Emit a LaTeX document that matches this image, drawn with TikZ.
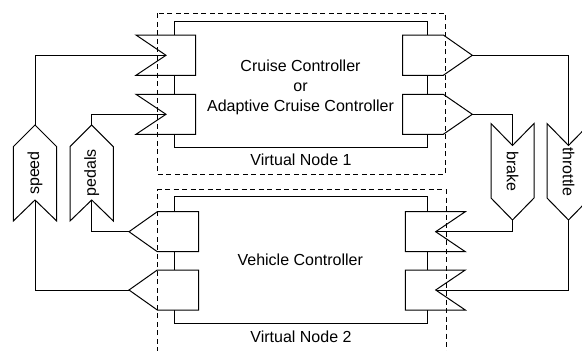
\documentclass[tikz,border=0pt]{standalone}
\usepackage{fontspec}
\setmainfont{Liberation Sans}
\begin{document}
\begin{tikzpicture}[x=1pt,y=-1pt]
\tikzset{
  box/.style={draw, line width=1pt},
  port/.style={draw, fill=white, line width=1pt, line join=miter},
  flagshape/.style={draw, fill=white, line width=1pt, line join=miter},
  wire/.style={draw, line width=1pt},
  vnode/.style={draw, line width=1pt, dash pattern=on 5pt off 3.5pt},
  lbl/.style={font=\fontsize{16}{20}\selectfont, align=center, inner sep=0pt},
}
\clip (0,0) rectangle (582,351);

% inner component boxes
\draw[box] (174,21.7) rectangle (427,147.7);
\draw[box] (174,196.7) rectangle (427,323.3);

% Cruise controller input ports (notched)
\draw[port] (136,35) -- (195.7,35) -- (195.7,75.3) -- (136,75.3) -- (166,55.3) -- cycle;
\coordinate (ccin1) at (166,55.3);
\draw[port] (136,94.3) -- (195.7,94.3) -- (195.7,134.3) -- (136,134.3) -- (166,114.3) -- cycle;
\coordinate (ccin2) at (166,114.3);
% Cruise controller output ports (pointed)
\draw[port] (402.7,35) -- (443.3,35) -- (472.3,55.3) -- (443.3,75.3) -- (402.7,75.3) -- cycle;
\coordinate (ccout1) at (472.3,55.3);
\draw[port] (402.7,94.3) -- (443.3,94.3) -- (472.3,114.3) -- (443.3,134.3) -- (402.7,134.3) -- cycle;
\coordinate (ccout2) at (472.3,114.3);

% Vehicle controller output ports (pointed, left)
\draw[port] (198.7,211.7) -- (157.3,211.7) -- (129,231.7) -- (157.3,251.7) -- (198.7,251.7) -- cycle;
\coordinate (vcout1) at (129,231.7);
\draw[port] (198.7,270) -- (157.3,270) -- (129,290) -- (157.3,310) -- (198.7,310) -- cycle;
\coordinate (vcout2) at (129,290);
% Vehicle controller input ports (notched)
\draw[port] (465.3,211.7) -- (405.3,211.7) -- (405.3,251.7) -- (465.3,251.7) -- (435.7,231.7) -- cycle;
\coordinate (vcin1) at (435.7,231.7);
\draw[port] (465.3,270) -- (405.3,270) -- (405.3,310) -- (465.3,310) -- (435.7,290) -- cycle;
\coordinate (vcin2) at (435.7,290);

% signal flags pointing up
\draw[flagshape] (35,125) -- (56.7,146.7) -- (56.7,221) -- (35,200) -- (13.3,221) -- (13.3,146.7) -- cycle;
\coordinate (speedtop) at (35,125);
\coordinate (speedbot) at (35,200);
\draw[flagshape] (91.7,125) -- (113.3,146.7) -- (113.3,221) -- (91.7,200) -- (70,221) -- (70,146.7) -- cycle;
\coordinate (pedalstop) at (91.7,125);
\coordinate (pedalsbot) at (91.7,200);
% signal flags pointing down
\draw[flagshape] (491,123.5) -- (512.5,145.5) -- (534,123.5) -- (534,198) -- (512.5,220) -- (491,198) -- cycle;
\coordinate (braketop) at (512.5,145.5);
\coordinate (brakebot) at (512.5,220);
\draw[flagshape] (547,123.5) -- (568.5,145.5) -- (590,123.5) -- (590,198) -- (568.5,220) -- (547,198) -- cycle;
\coordinate (throttletop) at (568.5,145.5);
\coordinate (throttlebot) at (568.5,220);

% connectors
\draw[wire] (speedtop) |- (ccin1);
\draw[wire] (pedalstop) |- (ccin2);
\draw[wire] (vcout1) -| (pedalsbot);
\draw[wire] (vcout2) -| (speedbot);
\draw[wire] (ccout1) -| (throttletop);
\draw[wire] (ccout2) -| (braketop);
\draw[wire] (brakebot) |- (vcin1);
\draw[wire] (throttlebot) |- (vcin2);

% virtual node boundaries
\draw[vnode] (157.3,13.3) rectangle (445.7,174.3);
\draw[vnode] (157.3,352) -- (157.3,189.8) -- (446.2,189.8) -- (446.2,352);

% labels
\node[lbl] (cc) at (300.5,87) {Cruise Controller\\or\\Adaptive Cruise Controller};
\node[lbl, anchor=base] (vc) at (300.3,265) {Vehicle Controller};
\node[lbl, anchor=base] (vn1) at (301,165) {Virtual Node 1};
\node[lbl, anchor=base] (vn2) at (301,342.3) {Virtual Node 2};
\node[lbl, rotate=90] (speed) at (35,173) {speed};
\node[lbl, rotate=90] (pedals) at (91.7,173) {pedals};
\node[lbl, rotate=-90] (brake) at (512.5,171.5) {brake};
\node[lbl, rotate=-90] (throttle) at (568.5,171.5) {throttle};
\end{tikzpicture}
\end{document}
